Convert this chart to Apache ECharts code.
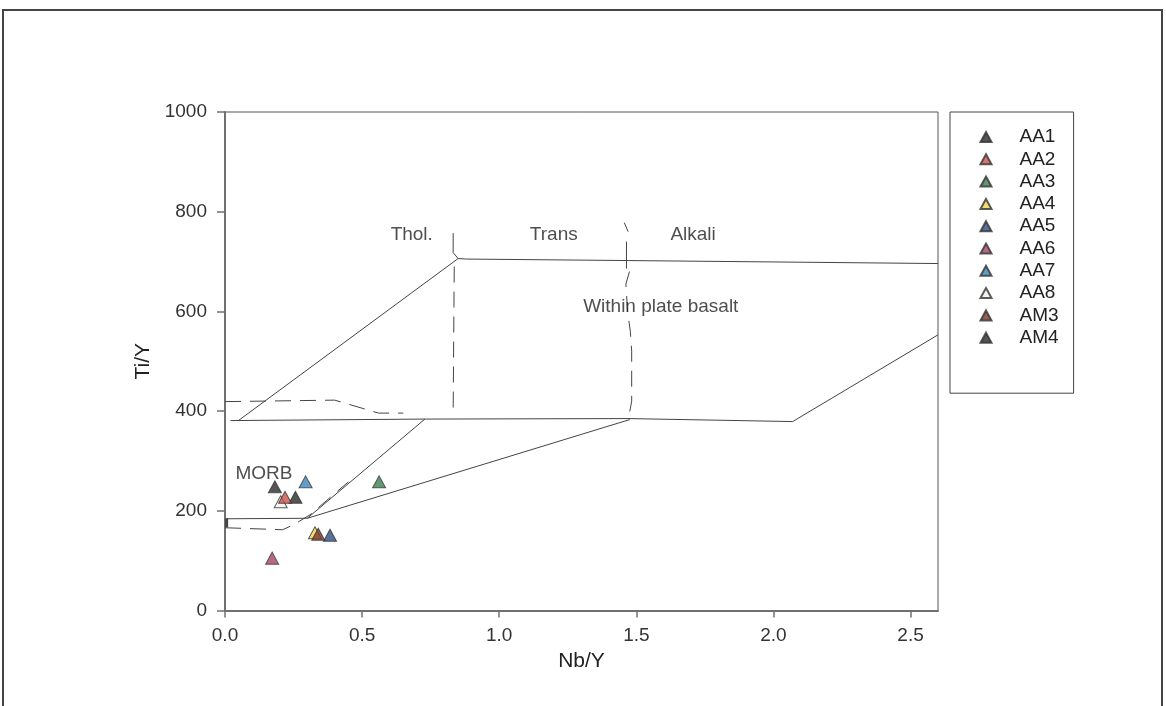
<!DOCTYPE html>
<html>
<head>
<meta charset="utf-8">
<title>Nb/Y vs Ti/Y</title>
<script src="https://cdn.jsdelivr.net/npm/echarts@6/dist/echarts.min.js"></script>
<style>
  html, body { margin: 0; padding: 0; background: #ffffff; }
  #chart { width: 1166px; height: 706px; }
</style>
</head>
<body>
<div id="chart"></div>
<script>
// Samples (Nb/Y, Ti/Y)
const sampleNames = ['AA1', 'AA2', 'AA3', 'AA4', 'AA5', 'AA6', 'AA7', 'AA8', 'AM3', 'AM4'];
const sampleNbY   = [0.182, 0.219, 0.562, 0.328, 0.383, 0.172, 0.294, 0.203, 0.340, 0.257];
const sampleTiY   = [248,   227,   258,   156,   151,   105,   258,   218,   153,   227];

// Axis ticks
const xTicks = [0, 0.5, 1.0, 1.5, 2.0, 2.5];
const yTicks = [0, 200, 400, 600, 800, 1000];

// Field boundaries, solid
const wpbLeftEdge   = [[0.049, 381], [0.85, 706]];
const wpbTopEdge    = [[0.85, 706], [0.88, 705], [1.47, 702], [2.6, 696]];
const tholTick      = [[0.832, 757], [0.832, 718], [0.85, 706]];
const transTick     = [[1.464, 740], [1.464, 686]];
const wpbBaseEdge   = [[0.02, 381], [0.73, 384], [1.47, 385], [2.07, 379]];
const wpbRightEdge  = [[2.07, 379], [2.6, 553]];
const morbTopEdge   = [[0.005, 184], [0.30, 185]];
const morbLowSlope  = [[0.30, 185], [1.476, 383]];
const morbSteep     = [[0.30, 185], [0.729, 384]];

// Field boundaries, dashed
const tholTransDiv  = [[0.836, 690], [0.834, 550], [0.832, 396]];
const transAlkDiv   = [[1.456, 778], [1.470, 760]];
const transAlkLower = [[1.475, 680], [1.462, 655], [1.468, 600], [1.478, 560], [1.483, 520], [1.483, 420], [1.476, 399]];
const upperDashed   = [[0.0, 419], [0.40, 422], [0.56, 396], [0.65, 396]];
const morbDashed    = [[0.0, 166], [0.21, 162], [0.25, 172], [0.31, 192], [0.45, 258]];
const axisStub      = [[0.006, 167], [0.006, 185]];

// Field names
const fieldNames = ['Thol.', 'Trans', 'Alkali', 'Within plate basalt', 'MORB'];
const fieldPos   = [[0.681, 753], [1.199, 753], [1.707, 753], [1.589, 610], [0.142, 275]];

const sampleColors = ['#2b2b2b', '#c9524a', '#3f7d4e', '#f2d54a', '#2f4d7e',
                      '#a8446a', '#3a86b8', '#f4f4ee', '#7a3a2c', '#2b2b2b'];

const FONT = '"Liberation Sans", Arial, sans-serif';
const LINE = '#444444';

function boundary(data, dashed, width) {
  return {
    type: 'line',
    data: data,
    symbol: 'none',
    silent: true,
    z: 1,
    lineStyle: { color: LINE, width: width || 1, type: dashed ? [16, 9] : 'solid' },
    animation: false
  };
}

const series = [
  boundary(wpbLeftEdge), boundary(wpbTopEdge), boundary(tholTick), boundary(transTick),
  boundary(wpbBaseEdge), boundary(wpbRightEdge), boundary(morbTopEdge),
  boundary(morbLowSlope), boundary(morbSteep),
  boundary(tholTransDiv, true), boundary(transAlkDiv), boundary(transAlkLower, true),
  boundary(upperDashed, true), boundary(morbDashed, true), boundary(axisStub, false, 3),
  {
    type: 'scatter',
    name: 'fields',
    silent: true,
    symbolSize: 0,
    z: 2,
    data: fieldNames.map((n, i) => ({ name: n, value: fieldPos[i] })),
    label: {
      show: true, position: 'inside', formatter: '{b}',
      color: '#222', fontSize: 19, fontFamily: FONT
    },
    animation: false
  }
];

sampleNames.forEach((n, i) => {
  series.push({
    type: 'scatter',
    name: n,
    symbol: 'triangle',
    symbolSize: [13, 12],
    z: n === 'AA2' ? 6 : 5,
    data: [[sampleNbY[i], sampleTiY[i]]],
    itemStyle: { color: sampleColors[i], borderColor: '#333', borderWidth: 1 },
    emphasis: { disabled: true },
    animation: false
  });
});

const chart = echarts.init(document.getElementById('chart'), null, { renderer: 'canvas' });
chart.setOption({
  backgroundColor: '#ffffff',
  animation: false,
  textStyle: { fontFamily: FONT },
  grid: {
    left: 225, top: 112, right: 228, bottom: 95.5,
    show: true, borderColor: '#555', borderWidth: 1, backgroundColor: 'transparent'
  },
  xAxis: {
    type: 'value', min: xTicks[0], max: 2.6, interval: 0.5,
    name: 'Nb/Y', nameLocation: 'middle', nameGap: 23,
    nameTextStyle: { fontSize: 21, color: '#222', fontFamily: FONT },
    axisLine: { show: true, onZero: false, lineStyle: { color: '#707070', width: 2 } },
    axisTick: { show: true, length: 7, lineStyle: { color: '#707070', width: 1.5 } },
    axisLabel: {
      fontSize: 19, color: '#333', margin: 16, fontFamily: FONT, showMaxLabel: false,
      formatter: v => xTicks.some(t => Math.abs(t - v) < 1e-9) ? v.toFixed(1) : ''
    },
    splitLine: { show: false }
  },
  yAxis: {
    type: 'value', min: yTicks[0], max: yTicks[yTicks.length - 1], interval: 200,
    name: 'Ti/Y', nameLocation: 'middle', nameGap: 54,
    nameTextStyle: { fontSize: 21, color: '#222', fontFamily: FONT },
    axisLine: { show: true, onZero: false, lineStyle: { color: '#707070', width: 2 } },
    axisTick: { show: true, length: 8, lineStyle: { color: '#707070', width: 1.5 } },
    axisLabel: { fontSize: 19, color: '#333', margin: 18, fontFamily: FONT, formatter: v => String(v) },
    splitLine: { show: false }
  },
  legend: {
    data: sampleNames,
    orient: 'vertical',
    left: 950, top: 112,
    padding: [15.5, 15, 46, 29.5],
    itemWidth: 11, itemHeight: 10, itemGap: 3.3,
    borderColor: '#444', borderWidth: 1,
    selectedMode: false,
    textStyle: { fontSize: 19, lineHeight: 19, color: '#222', fontFamily: FONT, padding: [0, 0, 0, 23] }
  },
  graphic: [{
    type: 'polyline',
    silent: true,
    shape: { points: [[3, 706], [3, 10], [1162, 10], [1162, 706]] },
    style: { stroke: '#444', lineWidth: 2, fill: null }
  }],
  series: series
});
</script>
</body>
</html>
